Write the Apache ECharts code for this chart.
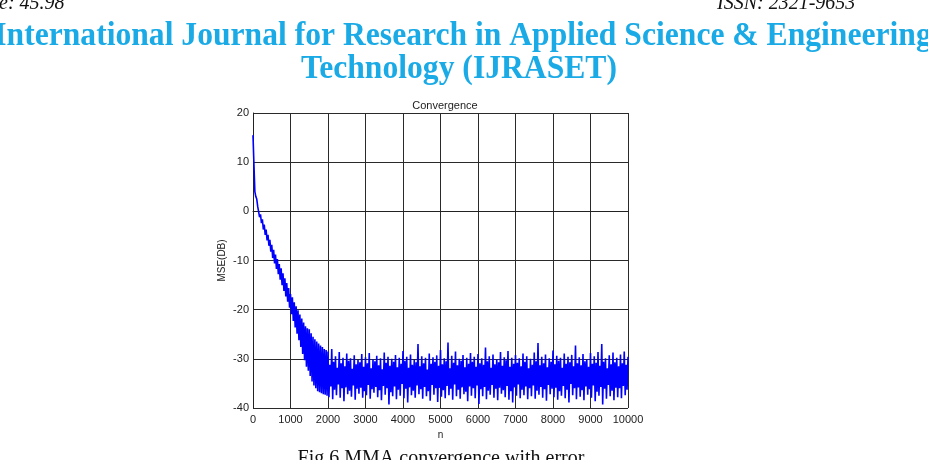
<!DOCTYPE html>
<html>
<head>
<meta charset="utf-8">
<style>
  html, body { margin: 0; padding: 0; background: #fff; }
  #chart { width: 928px; height: 460px; }
</style>
<script src="https://cdn.jsdelivr.net/npm/echarts@6/dist/echarts.min.js"></script>
</head>
<body>
<div id="chart"></div>
<script>
  // sample spacing along n
  const step = 25

  // n = 0 .. 2000, the falling part
  const mseDecay = [
    15.5, 9.5, 4.0, 3.0, 2.5, 1.0, 0.9, -1.2, -0.6, -2.4,
    -1.6, -3.7, -2.7, -4.8, -3.7, -5.9, -4.8, -7.0, -5.8, -8.2,
    -6.8, -9.5, -7.8, -10.6, -8.8, -11.7, -9.7, -12.8, -10.7, -13.9,
    -11.6, -15.0, -12.6, -16.2, -13.6, -17.3, -14.6, -18.4, -15.6, -19.6,
    -16.8, -20.9, -17.5, -22.3, -18.5, -23.6, -19.3, -24.9, -20.1, -26.2,
    -21.0, -27.6, -21.8, -29.0, -22.6, -30.3, -23.4, -31.6, -23.8, -32.4,
    -24.0, -33.5, -24.8, -34.6, -25.5, -35.4, -26.0, -36.0, -26.5, -36.6,
    -26.9, -36.8, -27.3, -37.0, -27.6, -37.2, -28.0, -37.3, -28.2, -37.5,
    -28.5,
  ]

  // n = 2025 .. 10000, the noisy floor, four samples per 100
  const mseLower = [
    -37.8, -38.2, -37.4, -37.9, -38.6, -37.2, -37.7, -38.3, -37.1, -37.9,
    -37.4, -38.1, -36.9, -37.8, -38.4, -37.3, -39.3, -37.6, -38.2, -37.5,
    -38.0, -38.9, -37.4, -37.9, -37.2, -38.1, -37.6, -38.5, -37.3, -38.8,
    -37.7, -38.0, -37.4, -38.3, -37.6, -38.1, -37.2, -38.6, -37.5, -38.0,
    -39.2, -37.6, -38.2, -37.3, -37.9, -38.4, -37.1, -37.8, -38.3, -38.9,
    -37.5, -38.0, -37.4, -38.2, -37.6, -38.1, -37.3, -37.9, -38.5, -37.2,
    -37.8, -38.3, -37.5, -38.0, -38.9, -37.4, -38.2, -37.7, -38.4, -37.3,
    -37.9, -38.6, -37.5, -39.3, -38.1, -37.6, -38.4, -37.8, -38.0, -37.4,
  ]
  const mseInnerHigh = [
    -31.2, -30.6, -31.8, -30.9, -31.5, -30.4, -32.0, -31.1, -30.7, -31.6,
    -30.9, -31.9, -30.5, -31.3, -32.1, -30.8, -31.4, -30.6, -31.7, -31.0,
    -30.4, -31.8, -31.2, -30.7, -31.5, -30.9, -32.2, -31.0, -30.6, -31.4,
    -31.1, -30.5, -31.9, -30.8, -31.3, -30.4, -31.7, -31.0, -30.6, -31.6,
    -30.9, -31.2, -30.5, -31.8, -31.1, -30.7, -31.4, -30.3, -31.6, -31.0,
    -30.8, -31.5, -30.6, -31.9, -31.2, -30.5, -31.3, -30.9, -31.7, -30.6,
    -31.1, -30.4, -31.8, -31.0, -30.7, -31.5, -30.9, -31.3, -30.5, -31.6,
    -31.0, -30.8, -31.4, -30.6, -31.9, -31.1, -30.7, -31.5, -30.9, -31.2,
  ]
  const mseInnerLow = [
    -35.6, -36.3, -35.2, -36.0, -35.8, -36.5, -35.4, -36.1, -35.9, -36.6,
    -35.3, -36.2, -35.7, -36.4, -35.5, -36.0, -36.8, -35.6, -36.3, -35.1,
    -36.1, -35.8, -36.5, -35.4, -36.2, -35.7, -36.6, -35.3, -36.0, -35.9,
    -36.4, -35.5, -36.1, -35.2, -36.3, -35.8, -36.7, -35.6, -36.0, -35.4,
    -36.2, -35.7, -36.5, -35.3, -36.1, -35.9, -36.4, -35.5, -36.6, -35.8,
    -35.2, -36.3, -35.6, -36.0, -35.4, -36.5, -35.7, -36.2, -35.3, -36.1,
    -35.9, -36.6, -35.5, -36.3, -35.1, -36.0, -35.8, -36.4, -35.6, -36.2,
    -35.4, -36.7, -35.7, -36.1, -35.3, -36.5, -35.9, -36.0, -35.5, -36.3,
  ]
  const mseUpper = [
    -28.0, -29.5, -28.6, -29.8, -28.9, -29.9, -29.3, -30.2, -29.0, -29.7,
    -28.8, -30.1, -29.4, -29.9, -28.7, -29.6, -30.0, -29.2, -29.8, -28.4,
    -29.6, -29.1, -30.2, -27.0, -29.5, -29.8, -28.9, -29.7, -29.3, -28.2,
    -29.9, -26.7, -29.4, -28.5, -30.0, -29.2, -29.8, -28.8, -29.6, -29.0,
    -29.9, -27.7, -29.5, -29.1, -30.1, -28.6, -29.7, -28.4, -29.8, -29.2,
    -29.9, -28.9, -29.5, -30.0, -28.7, -26.8, -29.6, -29.1, -29.9, -28.3,
    -29.4, -29.8, -28.9, -29.6, -29.2, -27.3, -29.7, -29.0, -30.1, -28.8,
    -29.5, -28.6, -27.0, -29.9, -29.3, -28.7, -29.8, -29.1, -28.5, -29.6,
  ]

  const xTicks = [0, 1000, 2000, 3000, 4000, 5000, 6000, 7000, 8000, 9000, 10000]
  const yTicks = [-40, -30, -20, -10, 0, 10, 20]

  let data = []
  mseDecay.forEach((v, i) => data.push([i * step, v]))
  let n0 = (mseDecay.length - 1) * step
  for (let i = 0; i < mseUpper.length; i++) {
    let base = n0 + i * 4 * step
    data.push([base + step, mseLower[i]])
    data.push([base + 2 * step, mseInnerHigh[i]])
    data.push([base + 3 * step, mseInnerLow[i]])
    data.push([base + 4 * step, mseUpper[i]])
  }

  const chart = echarts.init(document.getElementById('chart'))

  const axisText = { color: '#222', fontSize: 11, fontFamily: 'Liberation Sans, Arial, sans-serif' }
  const gridLine = { lineStyle: { color: '#2a2a2a', width: 1, type: 'solid' } }

  chart.setOption({
    backgroundColor: '#fff',
    animation: false,
    grid: { left: 253, right: 300, top: 113, bottom: 52 },
    title: {
      text: 'Convergence',
      left: 440,
      top: 95,
      textAlign: 'center',
      textStyle: { ...axisText, fontWeight: 'normal' },
    },
    xAxis: {
      type: 'value',
      min: xTicks[0],
      max: xTicks[xTicks.length - 1],
      interval: 1000,
      name: 'n',
      nameLocation: 'middle',
      nameGap: 16,
      nameTextStyle: { ...axisText, fontSize: 10 },
      axisLine: { show: true, lineStyle: { color: '#222', width: 1 } },
      axisTick: { show: false },
      axisLabel: { ...axisText, margin: 6, formatter: (v) => String(v) },
      splitLine: gridLine,
    },
    yAxis: {
      type: 'value',
      min: yTicks[0],
      max: yTicks[yTicks.length - 1],
      interval: 10,
      name: 'MSE(DB)',
      nameLocation: 'middle',
      nameRotate: 90,
      nameGap: 26,
      nameTextStyle: { ...axisText, fontSize: 10 },
      axisLine: { show: true, lineStyle: { color: '#222', width: 1 } },
      axisTick: { show: false },
      axisLabel: { ...axisText, margin: 4 },
      splitLine: gridLine,
    },
    series: [
      {
        type: 'line',
        data: data,
        showSymbol: false,
        lineStyle: { color: '#0000ff', width: 1.6 },
        z: 3,
      },
    ],
    graphic: [
      {
        type: 'text',
        left: -1,
        top: -6,
        style: { text: 'e: 45.98', fill: '#111', font: 'italic 20px "Liberation Serif", serif' },
      },
      {
        type: 'text',
        left: 717,
        top: -6,
        style: { text: 'ISSN: 2321-9653', fill: '#111', font: 'italic 20px "Liberation Serif", serif' },
      },
      {
        type: 'text',
        x: 463,
        y: 19,
        scaleX: 0.93,
        originX: 0,
        style: {
          text: 'International Journal for Research in Applied Science & Engineering',
          fill: '#1aaae6',
          font: 'bold 34px "Liberation Serif", serif',
          align: 'center',
        },
      },
      {
        type: 'text',
        x: 459,
        y: 52,
        scaleX: 0.93,
        originX: 0,
        style: {
          text: 'Technology (IJRASET)',
          fill: '#1aaae6',
          font: 'bold 34px "Liberation Serif", serif',
          align: 'center',
        },
      },
      {
        type: 'text',
        x: 441,
        y: 449,
        style: {
          text: 'Fig.6 MMA convergence with error',
          fill: '#111',
          font: '20px "Liberation Serif", serif',
          align: 'center',
        },
      },
    ],
  })
</script>
</body>
</html>
